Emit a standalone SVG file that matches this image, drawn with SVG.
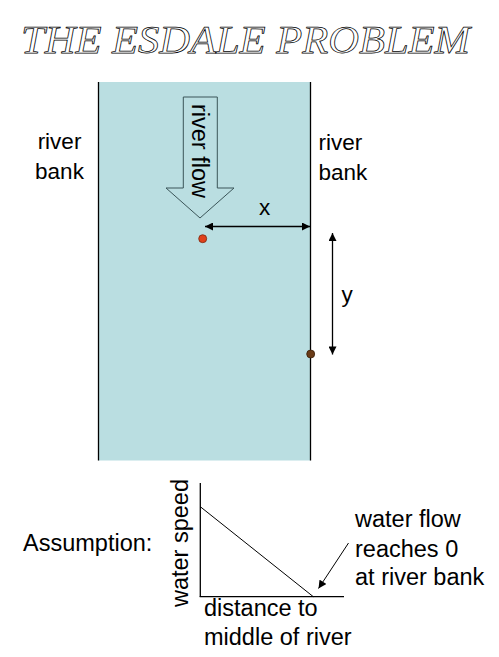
<svg xmlns="http://www.w3.org/2000/svg" width="499" height="657" viewBox="0 0 499 657">
<style>
.t{font-family:"Liberation Sans",Arial,sans-serif;font-size:23.5px;fill:#000}
.b{font-family:"Liberation Sans",Arial,sans-serif;font-size:22.5px;fill:#000}
.ln{stroke:#000;stroke-width:1.3;fill:none}
</style>
<defs>
<marker id="ah" viewBox="0 0 10 10" refX="10" refY="5" markerWidth="9" markerHeight="8" markerUnits="userSpaceOnUse" orient="auto-start-reverse">
<path d="M0,0 L10,5 L0,10 Z" fill="#000"/>
</marker>
</defs>
<rect width="499" height="657" fill="#fff"/>
<g id="title">
<text x="21" y="53" font-family="Liberation Serif,serif" font-style="italic" font-size="40" fill="#fff" stroke="#000" stroke-width="0.75" textLength="449" lengthAdjust="spacingAndGlyphs">THE ESDALE PROBLEM</text>
</g>
<g id="river">
<rect x="98.5" y="82" width="212" height="378.5" fill="#BADEE1"/>
<line x1="98.5" y1="82" x2="98.5" y2="460.5" stroke="#000" stroke-width="1.3"/>
<line x1="310.5" y1="82" x2="310.5" y2="460.5" stroke="#000" stroke-width="1.3"/>
</g>
<g id="flow-arrow">
<path d="M183.3,97 H217.3 V188 H234 L200,218 L166,188 H183.3 Z" fill="#BADEE1" stroke="#3B5558" stroke-width="1"/>
<text class="t" transform="translate(200,151) rotate(90)" y="8" text-anchor="middle">river flow</text>
</g>
<g id="left-bank"><text class="b" x="59.5" y="148.5" text-anchor="middle">river</text><text class="b" x="59.5" y="178.5" text-anchor="middle">bank</text></g>
<g id="right-bank"><text class="b" x="318.5" y="150">river</text><text class="b" x="318.5" y="180">bank</text></g>
<g id="connectors">
<line class="ln" x1="205" y1="226.5" x2="310" y2="226.5" marker-start="url(#ah)" marker-end="url(#ah)"/>
<line class="ln" x1="332.5" y1="233" x2="332.5" y2="354.5" marker-start="url(#ah)" marker-end="url(#ah)"/>
<line x1="348.5" y1="543" x2="318.5" y2="588.5" stroke="#000" stroke-width="1" marker-end="url(#ah)"/>
</g>
<g id="x-label"><text class="b" x="264.5" y="215" text-anchor="middle">x</text></g>
<g id="y-label"><text class="b" x="347" y="302" text-anchor="middle">y</text></g>
<g id="point-red"><circle cx="202.7" cy="238.7" r="4" fill="#E0411B" stroke="#7A2A10" stroke-width="0.8"/></g>
<g id="point-brown"><circle cx="310.7" cy="354" r="4" fill="#6A3B17" stroke="#3A1E08" stroke-width="0.8"/></g>
<g id="graph">
<line x1="200.3" y1="483" x2="200.3" y2="597" stroke="#000" stroke-width="1.3"/>
<line x1="199.7" y1="596.7" x2="344" y2="596.7" stroke="#000" stroke-width="1.3"/>
<line x1="200.3" y1="506.7" x2="313.3" y2="596.7" stroke="#000" stroke-width="1"/>
<text class="t" transform="translate(188,543) rotate(-90)" text-anchor="middle">water speed</text>
<text class="t" x="204" y="616">distance to</text>
<text class="t" x="204" y="645">middle of river</text>
</g>
<g id="assumption"><text class="t" x="23" y="551">Assumption:</text></g>
<g id="note">
<text class="t" x="355" y="527">water flow</text>
<text class="t" x="355" y="557">reaches 0</text>
<text class="t" x="355" y="585">at river bank</text>
</g>
</svg>
